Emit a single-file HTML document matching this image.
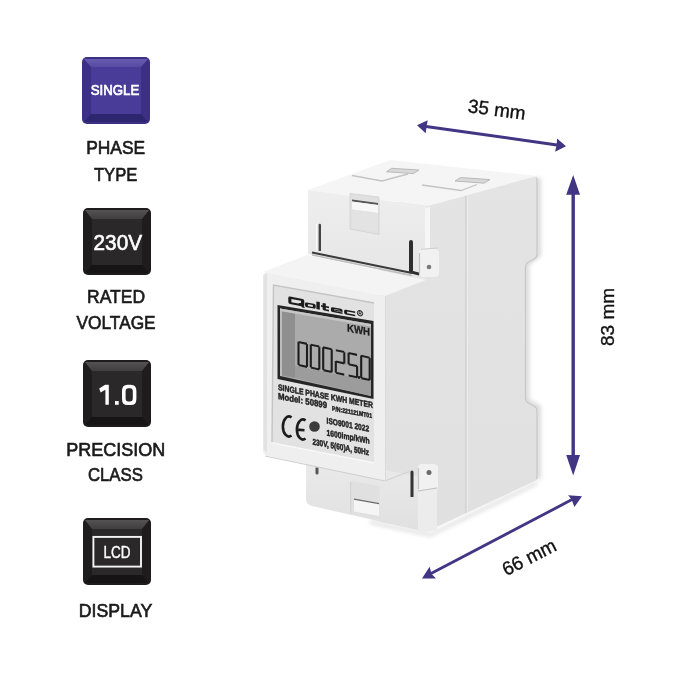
<!DOCTYPE html>
<html><head><meta charset="utf-8">
<style>
html,body{margin:0;padding:0;background:#fff;}
body{width:700px;height:700px;position:relative;overflow:hidden;font-family:"Liberation Sans",sans-serif;}
svg{position:absolute;left:0;top:0;will-change:transform;}
</style></head><body>
<svg width="700" height="700" viewBox="0 0 700 700">
<defs>
  <linearGradient id="kp" x1="0" y1="0" x2="0" y2="1">
    <stop offset="0" stop-color="#5a4ea6"/><stop offset="1" stop-color="#4a3d98"/>
  </linearGradient>
  <linearGradient id="kd" x1="0" y1="0" x2="0" y2="1">
    <stop offset="0" stop-color="#545252"/><stop offset="1" stop-color="#403e3e"/>
  </linearGradient>
  <linearGradient id="kpt" x1="0" y1="0" x2="0" y2="1">
    <stop offset="0" stop-color="#675cb0"/><stop offset="1" stop-color="#564ba2"/>
  </linearGradient>
</defs>

<!-- ===== KEYS ===== -->
<g id="key1">
  <rect x="82" y="57" width="68" height="67" rx="5" fill="#3b2f86"/>
  <polygon points="84,59 148,59 141,67 91,67" fill="url(#kpt)"/>
  <polygon points="84,122 148,122 141,114 91,114" fill="#2f2670"/>
  <rect x="91" y="67" width="50" height="47" fill="#483c98"/>
</g>
<g id="key2">
  <rect x="83" y="208" width="68" height="67" rx="5" fill="#1e1c1c"/>
  <polygon points="85,210 149,210 142,219 92,219" fill="url(#kd)"/>
  <polygon points="85,273 149,273 142,265 92,265" fill="#161414"/>
  <rect x="92" y="219" width="50" height="46" fill="#2a2828"/>
</g>
<g id="key3">
  <rect x="83" y="360" width="68" height="67" rx="5" fill="#1e1c1c"/>
  <polygon points="85,362 149,362 142,371 92,371" fill="url(#kd)"/>
  <polygon points="85,425 149,425 142,417 92,417" fill="#161414"/>
  <rect x="92" y="371" width="50" height="46" fill="#2a2828"/>
</g>
<g id="key4">
  <rect x="83" y="518" width="68" height="67" rx="5" fill="#1e1c1c"/>
  <polygon points="85,520 149,520 142,529 92,529" fill="url(#kd)"/>
  <polygon points="85,583 149,583 142,575 92,575" fill="#161414"/>
  <rect x="92" y="529" width="50" height="46" fill="#2a2828"/>
  <rect x="93.4" y="536.9" width="47.6" height="29.7" fill="none" stroke="#f4f4f4" stroke-width="1.9"/>
</g>
<g fill="#fff" font-family="Liberation Sans" text-anchor="middle">
  <text x="115" y="95.4" font-size="14.5" stroke="#fff" stroke-width="0.7" textLength="48.5" lengthAdjust="spacingAndGlyphs">SINGLE</text>
  <text x="117.8" y="250" font-size="21.5" stroke="#fff" stroke-width="0.6" textLength="48.5" lengthAdjust="spacingAndGlyphs">230V</text>
  </g>
<g fill="#fff">
  <path d="M99.2,388.6 L105.2,384.8 L108.8,384.8 L108.8,404.8 L105.4,404.8 L105.4,389.8 L100.6,392.4 Z"/>
  <rect x="115" y="401" width="3.7" height="3.8"/>
  <path fill-rule="evenodd" d="M127.5,384.8 L130.8,384.8 Q136.4,384.8 136.4,391 L136.4,398.9 Q136.4,405.1 130.8,405.1 L127.5,405.1 Q122,405.1 122,398.9 L122,391 Q122,384.8 127.5,384.8 Z M128.4,388.3 Q125.6,388.3 125.6,391.6 L125.6,398.3 Q125.6,401.6 128.4,401.6 L130,401.6 Q132.8,401.6 132.8,398.3 L132.8,391.6 Q132.8,388.3 130,388.3 Z"/>
</g>
<g fill="#fff" font-family="Liberation Sans" text-anchor="middle">
  <text x="117" y="557.5" font-size="16" stroke="#fff" stroke-width="0.4" textLength="27" lengthAdjust="spacingAndGlyphs">LCD</text>
</g>
<g fill="#1a1a1a" stroke="#1a1a1a" stroke-width="0.65" font-family="Liberation Sans" text-anchor="middle" font-size="19">
  <text x="115.7" y="154" textLength="59" lengthAdjust="spacingAndGlyphs">PHASE</text>
  <text x="115.7" y="180.7" textLength="43.5" lengthAdjust="spacingAndGlyphs">TYPE</text>
  <text x="116.1" y="303.1" textLength="58" lengthAdjust="spacingAndGlyphs">RATED</text>
  <text x="116.1" y="328.9" textLength="79" lengthAdjust="spacingAndGlyphs">VOLTAGE</text>
  <text x="115.8" y="455.7" textLength="99" lengthAdjust="spacingAndGlyphs">PRECISION</text>
  <text x="115.4" y="481.4" textLength="55" lengthAdjust="spacingAndGlyphs">CLASS</text>
  <text x="115.5" y="616.6" textLength="73.5" lengthAdjust="spacingAndGlyphs">DISPLAY</text>
</g>

<!-- ===== METER ===== -->
<g id="meter">
  <defs>
    <linearGradient id="side" x1="0" y1="0" x2="0" y2="1">
      <stop offset="0" stop-color="#e4e4e4"/><stop offset="1" stop-color="#e0e0e0"/>
    </linearGradient>
    <linearGradient id="bfront" x1="0" y1="0" x2="0" y2="1">
      <stop offset="0" stop-color="#ebebeb"/><stop offset="1" stop-color="#e0e0e0"/>
    </linearGradient>
    <linearGradient id="front" x1="0" y1="0" x2="0" y2="1">
      <stop offset="0" stop-color="#eeeeee"/><stop offset="1" stop-color="#e6e6e6"/>
    </linearGradient>
  </defs>
  <!-- soft shadow right -->
  <defs><filter id="blur3" x="-50%" y="-10%" width="200%" height="120%"><feGaussianBlur stdDeviation="2.2"/></filter></defs>
  <path d="M538.5,178 L538.5,255 L527,263.5 L527,401 L538.5,407 L538.5,479" fill="none" stroke="#cccccc" stroke-width="3.5" filter="url(#blur3)"/>
  <path d="M370,522 L430,535 L537,483" fill="none" stroke="#dadada" stroke-width="3" filter="url(#blur3)"/>
  <!-- side face -->
  <polygon points="380,205 537,176 537,255 525,264 525,401 537,407 537,480 428,531 380,522" fill="url(#side)"/>
  <defs><linearGradient id="nsh" x1="0" y1="0" x2="1" y2="0"><stop offset="0" stop-color="#c8c8c8"/><stop offset="1" stop-color="#ffffff" stop-opacity="0"/></linearGradient></defs>
  <path d="M537,178 L537,254 Q537,257.5 534,259 L528.5,262 Q525.5,263.5 525.5,267 L525.5,398 Q525.5,401.5 528.5,403 L534,406 Q537,407.5 537,411 L537,479" fill="none" stroke="#c6c6c6" stroke-width="1.2"/>
  <line x1="466" y1="188" x2="466" y2="513" stroke="#cacaca" stroke-width="1.2"/>
  <line x1="467.2" y1="188" x2="467.2" y2="513" stroke="#f4f4f4" stroke-width="0.8"/>
  <!-- top surface -->
  <polygon points="308,190 390,160 537,176 428,206" fill="#f5f5f5"/>
  <!-- top tabs -->
  <polyline points="352,175.5 382,181 408,174" fill="none" stroke="#c4c4c4" stroke-width="1.3"/>
  <polygon points="391.5,168.3 419,170 413.5,173.6 386.5,171.8" fill="#d8d8d8" stroke="#b4b4b4" stroke-width="0.9"/>
  <polyline points="422,185 461,190.5 477,184.5" fill="none" stroke="#c4c4c4" stroke-width="1.3"/>
  <polygon points="460.5,177.5 490,179.6 484,183.2 455,181" fill="#d8d8d8" stroke="#b4b4b4" stroke-width="0.9"/>
  <!-- top block front -->
  <polygon points="308,190 426,206 426,280 308,254" fill="url(#front)"/>
  <!-- latch -->
  <polygon points="350,193.5 379,197 379,234.5 350,229" fill="#e0e0e0" stroke="#d2d2d2" stroke-width="0.8"/>
  <polygon points="352,199.5 378,203 378,205 352,201.5" fill="#555"/>
  <polygon points="352,201.5 378,205 378,213 352,209.5" fill="#f7f7f7"/>
  <polygon points="352,209.5 378,213 378,232 352,227.5" fill="#e3e3e3"/>
  <!-- slits -->
  <path d="M318.6,251 L318.6,225 A1.2,1.2 0 0 1 321,225 L321,251" fill="#444"/>
  <line x1="316.5" y1="224" x2="316.5" y2="251" stroke="#fafafa" stroke-width="1"/>
  <path d="M409,273 L409,242 A2,2 0 0 1 413,242 L413,271 L419,272.5 L419,275.5 Z" fill="#2e2e2e"/>
  <line x1="312" y1="252.5" x2="412" y2="273" stroke="#3a3a3a" stroke-width="2"/>
  <line x1="312" y1="255" x2="412" y2="275.5" stroke="#bdbdbd" stroke-width="1.5"/>
  <!-- top right chamfer strip -->
  <polygon points="425,208 430,207 430,249 425,250" fill="#f6f6f6"/>
  <!-- hinge -->
  <rect x="419" y="249" width="20" height="28" rx="4" fill="#f1f1f1"/>
  <line x1="419.5" y1="253" x2="419.5" y2="275" stroke="#c4c4c4" stroke-width="1.2"/>
  <line x1="421" y1="249.3" x2="438" y2="248" stroke="#cfcfcf" stroke-width="1"/>
  <circle cx="429" cy="267" r="2.3" fill="#7a7a7a"/>
  <!-- bottom block front -->
  <path d="M306,455 L426,478 L426,532 L312,506 Q306,504.5 306,499 Z" fill="url(#bfront)"/>
  <!-- bottom block details -->
  <polygon points="350.7,481 379.6,486 379.6,519 350.7,514" fill="#e0e0e0"/>
  <polygon points="354,499 379,503.5 379,516 354,511.5" fill="#f5f5f5"/>
  <line x1="354" y1="499.2" x2="379" y2="503.7" stroke="#6a6a6a" stroke-width="1.2"/>
  <line x1="350.7" y1="482" x2="350.7" y2="513" stroke="#cfcfcf" stroke-width="1"/>
  <path d="M410.5,497 L410.5,472 A1.5,1.5 0 0 1 413.5,472 L413.5,497 Z" fill="#333"/>
  <rect x="418" y="464" width="20" height="27" rx="4" fill="#f1f1f1"/>
  <line x1="418.5" y1="468" x2="418.5" y2="489" stroke="#c4c4c4" stroke-width="1.2"/>
  <circle cx="429" cy="472.5" r="2.5" fill="#6a6a6a"/>
  <polygon points="418,491 437,488 437,530 426,532 418,530" fill="#ececec"/>
  <line x1="418" y1="491" x2="437" y2="488" stroke="#bfbfbf" stroke-width="1"/>
  <path d="M315.5,467.5 L315.5,473 A1.5,1.5 0 0 0 318.5,473 L318.5,467.5 Z" fill="#555"/>
  <!-- display block side strip -->
  <line x1="385" y1="481" x2="409" y2="471.5" stroke="#cfcfcf" stroke-width="1"/>
  <!-- display block top -->
  <polygon points="263,272 307,255 426,280 385,296" fill="#f4f4f4"/>
  <!-- display block front bezel -->
  <path d="M263,276 Q263,272 267,272.8 L385,296 L385,481 L268,456 Q263,455 263,450 Z" fill="#efefef"/>
  <polygon points="263.5,276 267,273 267,452 263.5,450" fill="#e2e2e2"/>
  <line x1="265" y1="456" x2="385" y2="481" stroke="#d0d0d0" stroke-width="1.2"/>
  <line x1="385.5" y1="296" x2="385.5" y2="481" stroke="#dadada" stroke-width="1"/>
  <!-- inner panel -->
  <polygon points="273.5,285 374,303 374,462 272,442" fill="#e2e2e2"/>
  <polyline points="272,442 273.5,285 374,303" fill="none" stroke="#c4c4c4" stroke-width="1.4"/>
  <line x1="272" y1="443" x2="374" y2="463" stroke="#fafafa" stroke-width="1.2"/>
  <!-- LCD -->
  <polygon points="277.5,305 373.5,321 373.5,399 277.5,379" fill="#262626"/>
  <polygon points="280,308.5 371,324 371,396 280,376" fill="#ababab"/>
  <polygon points="282,311 295,313.3 295,378 282,375.5" fill="#8f8f8f"/>
  <polygon points="280,308.5 282,309 282,376 280,376" fill="#bdbdbd"/>
  <polygon points="295,366 371,381 371,396 295,378" fill="#9c9c9c"/>
  <polygon points="280,308.5 371,324 371,326.5 280,311" fill="#c6c6c6"/>
  <g fill="none" stroke="#1e1e1e" stroke-width="2.1" stroke-linecap="square">
    <path transform="matrix(1,0.22,0,1.000,298.5,342.0)" d="M1.1,0 L7.4,0 M8.5,1.1 L8.5,10.6 M8.5,12.4 L8.5,21.9 M1.1,23 L7.4,23 M0,12.4 L0,21.9 M0,1.1 L0,10.6"/>
    <path transform="matrix(1,0.22,0,0.994,310.8,344.7)" d="M1.1,0 L7.4,0 M8.5,1.1 L8.5,10.6 M8.5,12.4 L8.5,21.9 M1.1,23 L7.4,23 M0,12.4 L0,21.9 M0,1.1 L0,10.6"/>
    <path transform="matrix(1,0.22,0,0.988,323.2,347.4)" d="M1.1,0 L7.4,0 M8.5,1.1 L8.5,10.6 M8.5,12.4 L8.5,21.9 M1.1,23 L7.4,23 M0,12.4 L0,21.9 M0,1.1 L0,10.6"/>
    <path transform="matrix(1,0.22,0,0.982,335.8,350.2)" d="M1.1,0 L7.4,0 M8.5,1.1 L8.5,10.6 M1.1,11.5 L7.4,11.5 M0,12.4 L0,21.9 M1.1,23 L7.4,23"/>
    <path transform="matrix(1,0.22,0,0.976,348.6,353.0)" d="M1.1,0 L7.4,0 M0,1.1 L0,10.6 M1.1,11.5 L7.4,11.5 M8.5,12.4 L8.5,21.9 M1.1,23 L7.4,23"/>
    <path transform="matrix(1,0.22,0,0.970,361.2,355.8)" d="M1.1,0 L7.4,0 M8.5,1.1 L8.5,10.6 M8.5,12.4 L8.5,21.9 M1.1,23 L7.4,23 M0,12.4 L0,21.9 M0,1.1 L0,10.6"/>
  </g>
  <circle cx="359" cy="377.5" r="1.4" fill="#1e1e1e"/>
  <text transform="matrix(1,0.19,0,1,347,331.5)" font-size="11" font-weight="bold" fill="#1e1e1e" stroke="#1e1e1e" stroke-width="0.3" textLength="23" lengthAdjust="spacingAndGlyphs">KWH</text>
  <!-- logo -->
  <g transform="matrix(1,0.185,0,1,288,296)" fill="#1c1c1c">
    <path fill-rule="evenodd" d="M2,0.2 L14.6,0.2 Q16.3,0.2 16.3,1.9 L16.3,6 Q16.3,7.7 14.6,7.7 L2,7.7 Q0.3,7.7 0.3,6 L0.3,1.9 Q0.3,0.2 2,0.2 Z M3.4,2.3 L13,2.3 L13,5.5 L3.4,5.5 Z"/>
    <path d="M10.5,5 L13,4.6 L17.2,8.6 L14.6,9 Z"/>
    <path fill-rule="evenodd" d="M18.6,3 L26,3 Q27.7,3 27.7,4.6 L27.7,6.2 Q27.7,7.8 26,7.8 L18.6,7.8 Q17,7.8 17,6.2 L17,4.6 Q17,3 18.6,3 Z M19.9,4.5 L24.8,4.5 L24.8,6.3 L19.9,6.3 Z"/>
    <rect x="28.4" y="0.2" width="3.4" height="7.6"/>
    <path d="M34.6,0.6 L37.8,0.6 L37.8,3 L41,3 L41,4.6 L37.8,4.6 L37.8,6.2 L41,6.2 L41,7.8 L36.2,7.8 Q34.6,7.8 34.6,6.2 L34.6,4.6 L33,4.6 L33,3 L34.6,3 Z"/>
    <path fill-rule="evenodd" d="M44.6,3 L52.9,3 Q54.6,3 54.6,4.6 L54.6,6 L45.9,6 L45.9,6.3 L54.6,6.3 L54.6,7.8 L44.6,7.8 Q42.9,7.8 42.9,6.2 L42.9,4.6 Q42.9,3 44.6,3 Z M45.9,4.4 L51.7,4.4 L51.7,5 L45.9,5 Z"/>
    <path d="M57.8,3 L67.2,3 L67.2,4.6 L59.1,4.6 L59.1,6.2 L67.2,6.2 L67.2,7.8 L57.8,7.8 Q56.1,7.8 56.1,6.2 L56.1,4.6 Q56.1,3 57.8,3 Z"/>
    <circle cx="72" cy="3.9" r="2.7" fill="none" stroke="#1c1c1c" stroke-width="0.9"/>
    <path d="M71,5.5 L71,2.4 L72.4,2.4 Q73.3,2.4 73.3,3.3 Q73.3,4.1 72.4,4.1 L71,4.1 M72.3,4.1 L73.3,5.5" fill="none" stroke="#1c1c1c" stroke-width="0.7"/>
  </g>
  <!-- labels -->
  <g fill="#222" stroke="#222" stroke-width="0.45" font-weight="bold">
    <text transform="matrix(1,0.19,0,1,278,390)" font-size="8.5" textLength="95" lengthAdjust="spacingAndGlyphs">SINGLE PHASE KWH METER</text>
    <text transform="matrix(1,0.19,0,1,278,399)" font-size="9" textLength="49" lengthAdjust="spacingAndGlyphs">Model: 50899</text>
    <text transform="matrix(1,0.19,0,1,332,410.5)" font-size="6.5" textLength="40" lengthAdjust="spacingAndGlyphs">P/N:221121MT01</text>
    <text transform="matrix(1,0.19,0,1,326.6,423.5)" font-size="8.5" textLength="42.5" lengthAdjust="spacingAndGlyphs">ISO9001 2022</text>
    <text transform="matrix(1,0.19,0,1,326.6,435.5)" font-size="8.5" textLength="43" lengthAdjust="spacingAndGlyphs">1600imp/kWh</text>
    <text transform="matrix(1,0.19,0,1,312.4,444.5)" font-size="8.5" textLength="56.6" lengthAdjust="spacingAndGlyphs">230V, 5(60)A, 50Hz</text>
  </g>
  <!-- CE -->
  <path d="M291.5,417.5 A6,10 0 1 0 291.5,435.5" fill="none" stroke="#1c1c1c" stroke-width="2.6"/>
  <path d="M305.5,420.5 A6,10 0 1 0 305.5,438.5 M297,429.6 L304.5,430.2" fill="none" stroke="#1c1c1c" stroke-width="2.6"/>
  <circle cx="314.5" cy="426.5" r="5.3" fill="#3c3c3c"/>
</g>

<!-- ===== ARROWS ===== -->
<g fill="#413584" stroke="none">
  <line x1="426" y1="126.4" x2="557" y2="144.9" stroke="#413584" stroke-width="3"/>
  <polygon points="417,125.2 427.7,120.2 426.6,126.4 425.7,133.2"/>
  <polygon points="566,146.3 557.1,138.6 556.6,144.9 555.1,151.7"/>
  <line x1="573.2" y1="192" x2="573.2" y2="458" stroke="#413584" stroke-width="3.4"/>
  <polygon points="573.2,175 580,194.8 566.2,194.8"/>
  <polygon points="573.2,475.5 580,455 566.2,455"/>
  <line x1="431" y1="573.6" x2="572" y2="499.6" stroke="#413584" stroke-width="2.8"/>
  <polygon points="422,578.6 429.6,566.8 431.6,573.9 436,578.6"/>
  <polygon points="582,496.2 568.1,495.2 571.6,499.4 574.4,507"/>
</g>
<g fill="#111" stroke="#111" stroke-width="0.35" font-family="Liberation Sans" font-size="19" text-anchor="middle">
  <text transform="translate(496,116) rotate(7.4)">35 mm</text>
  <text transform="translate(614,317) rotate(-90)">83 mm</text>
  <text transform="translate(532,563) rotate(-27)">66 mm</text>
</g>
</svg>
</body></html>
